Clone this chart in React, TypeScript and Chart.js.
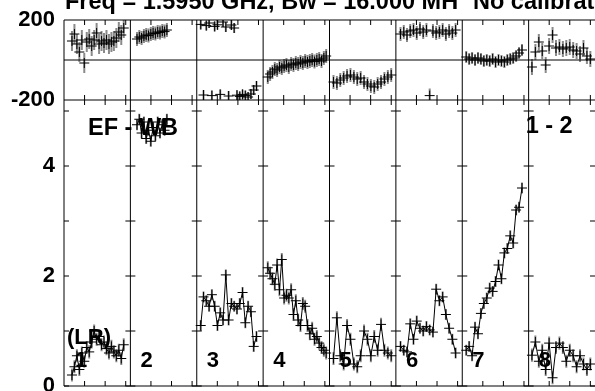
import React, { useEffect, useRef } from 'react';
import { Chart, registerables } from 'chart.js';

Chart.register(...registerables);

// ---- data ----
const panelLabels = ['1', '2', '3', '4', '5', '6', '7', '8'];
const titleText = 'Freq = 1.5950 GHz, Bw = 16.000 MH';
const titleText2 = 'No calibration';
const baselineText = 'EF - WB';
const corrText = '1 - 2';
const polText = '(LR)';

// time span of each panel's samples, as a fraction of the panel width
const panelStart = [0.12, 0.1, 0.06, 0.07, 0.06, 0.07, 0.06, 0.05];
const panelEnd = [0.9, 0.55, 0.9, 0.95, 0.93, 0.9, 0.9, 0.93];

const phase1 = [95, 130, 80, 40, 100, -15, 90, 105, 70, 100, 135, 80, 95, 85, 100, 80, 90, 95, 110, 140, 125, 160];
const amp1 = [0.2, 0.35, 0.55, 0.3, 0.6, 0.45, 0.7, 0.62, 0.8, 1.0, 0.85, 0.9, 0.75, 0.8, 0.68, 0.6, 0.72, 0.62, 0.55, 0.65, 0.5, 0.75];

const phase2 = [105, 115, 110, 120, 125, 122, 130, 135, 132, 140, 138, 145, 142, 150];
const amp2 = [4.75, 4.85, 4.6, 4.8, 4.5, 4.65, 4.45, 4.7, 4.55, 4.8, 4.6, 4.75, 4.65, 4.85];

const phase3 = [178, -175, 172, 185, -178, 168, 176, -172, 190, 165, -180, 175, 160, -176, -182, -172, -178, -185, -170, -150, -130];
const amp3 = [1.1, 1.62, 1.55, 1.45, 1.66, 1.45, 1.1, 1.33, 1.2, 2.02, 1.2, 1.5, 1.45, 1.4, 1.5, 1.7, 1.15, 1.45, 1.35, 0.72, 0.9];

const phase4 = [-85, -70, -60, -45, -50, -35, -40, -30, -25, -35, -20, -25, -15, -20, -10, -15, -5, -10, -5, 0, -8, 0, 5, -5, 10, 20];
const amp4 = [2.15, 2.05, 1.95, 1.85, 2.2, 1.75, 2.3, 1.6, 1.65, 1.6, 1.75, 1.3, 1.55, 1.2, 1.1, 1.5, 1.45, 1.1, 0.95, 1.05, 0.85, 0.9, 0.78, 0.7, 0.65, 0.6];

const phase5 = [-110, -115, -100, -90, -80, -75, -85, -95, -90, -110, -120, -130, -135, -120, -110, -95, -85, -75];
const amp5 = [0.5, 1.24, 0.55, 0.4, 1.1, 0.85, 0.4, 0.35, 0.55, 1.0, 0.85, 0.55, 0.9, 0.65, 1.12, 0.65, 0.6, 0.55];

const phase6 = [130, 140, 125, 145, 150, 135, 155, 140, 150, -178, 145, 135, 140, 150, 130, 145, 135, 150];
const amp6 = [0.72, 0.65, 0.62, 1.13, 0.85, 1.18, 1.05, 1.0, 1.08, 1.02, 0.98, 1.76, 1.55, 1.62, 1.3, 1.05, 0.85, 0.6];

const phase7 = [15, 5, 10, 0, 10, 5, -5, 0, -5, 5, -10, 0, -5, -10, 0, 5, 10, 20, 35, 50];
const amp7 = [0.65, 0.72, 0.55, 1.07, 0.95, 1.32, 1.5, 1.6, 1.78, 1.72, 1.9, 2.2, 1.95, 2.42, 2.5, 2.73, 2.6, 3.2, 3.25, 3.6];

const phase8 = [-35, 40, 90, 45, -25, 70, 125, 60, 65, 55, 60, 65, 50, 45, 30, 60, 20, 5];
const amp8 = [0.56, 0.8, 0.45, 0.65, 0.3, 0.78, 0.15, 0.7, 0.78, 0.7, 0.45, 0.65, 0.55, 0.35, 0.55, 0.4, 0.3, 0.4];

const phaseErr = [50, 35, 25, 35, 35, 35, 30, 40];
const ampErr = [0.12, 0.1, 0.1, 0.12, 0.12, 0.1, 0.1, 0.12];

const phaseTicks = [-200, 0, 200];
const ampMax = 5.2;
const ampTickLabels = [0, 2, 4];
const ampTickMarks = [1, 2, 3, 4, 5];
const xMinorTicks = [0.31, 0.62, 0.93];

const phases = [phase1, phase2, phase3, phase4, phase5, phase6, phase7, phase8];
const amps = [amp1, amp2, amp3, amp4, amp5, amp6, amp7, amp8];

const FONT = '"Liberation Sans", Arial, Helvetica, sans-serif';

function buildDatasets() {
  const ds: any[] = [];
  phases.forEach((ph, p) => {
    const n = ph.length;
    const xs = ph.map((_, i) => p + panelStart[p] + ((panelEnd[p] - panelStart[p]) * i) / (n - 1));
    ds.push({
      type: 'line',
      yAxisID: 'yPhase',
      data: ph.map((v, i) => ({ x: xs[i], y: v })),
      showLine: false,
      pointStyle: 'cross',
      pointRadius: 5,
      pointBorderColor: '#000',
      pointBorderWidth: 1,
      borderColor: '#000',
      errors: phaseErr[p],
    });
    const am = amps[p];
    const xa = am.map((_, i) => p + panelStart[p] + ((panelEnd[p] - panelStart[p]) * i) / (am.length - 1));
    ds.push({
      type: 'line',
      yAxisID: 'yAmp',
      data: am.map((v, i) => ({ x: xa[i], y: v })),
      showLine: true,
      borderColor: '#000',
      borderWidth: 1,
      pointStyle: 'cross',
      pointRadius: 5,
      pointBorderColor: '#000',
      pointBorderWidth: 1,
      errors: ampErr[p],
    });
  });
  return ds;
}

const framePlugin = {
  id: 'pgframe',
  beforeDatasetsDraw(chart: any) {
    const { ctx, chartArea } = chart;
    const xs = chart.scales.x;
    const yp = chart.scales.yPhase;
    const ya = chart.scales.yAmp;
    ctx.save();
    // error bars
    chart.data.datasets.forEach((d: any) => {
      const ys = chart.scales[d.yAxisID];
      ctx.save();
      ctx.beginPath();
      ctx.rect(xs.left, ys.top, xs.right - xs.left, ys.bottom - ys.top);
      ctx.clip();
      ctx.beginPath();
      ctx.strokeStyle = '#8a8a8a';
      ctx.lineWidth = 2;
      d.data.forEach((pt: any) => {
        const px = xs.getPixelForValue(pt.x);
        ctx.moveTo(px, ys.getPixelForValue(pt.y - d.errors));
        ctx.lineTo(px, ys.getPixelForValue(pt.y + d.errors));
      });
      ctx.stroke();
      ctx.restore();
    });

    ctx.strokeStyle = '#000';
    ctx.lineWidth = 1;
    ctx.beginPath();
    const top = chartArea.top;
    const mid = yp.bottom;
    const bot = chartArea.bottom;
    const left = chartArea.left;
    const right = chartArea.right;
    // frame
    ctx.moveTo(left, top); ctx.lineTo(right, top);
    ctx.moveTo(left, mid); ctx.lineTo(right, mid);
    ctx.moveTo(left, bot); ctx.lineTo(right, bot);
    ctx.moveTo(left, top); ctx.lineTo(left, bot);
    const y0 = yp.getPixelForValue(0);
    ctx.moveTo(left, y0); ctx.lineTo(right, y0);
    for (let k = 1; k < panelLabels.length; k++) {
      const x = xs.getPixelForValue(k);
      ctx.moveTo(x, top); ctx.lineTo(x, bot);
    }
    // amplitude ticks at every panel boundary
    for (let k = 0; k <= panelLabels.length; k++) {
      const x = xs.getPixelForValue(k);
      ampTickMarks.forEach((v) => {
        const y = ya.getPixelForValue(v);
        ctx.moveTo(k === 0 ? x : x - 5, y); ctx.lineTo(x + 5, y);
      });
      const yz = ya.getPixelForValue(0);
      ctx.moveTo(k === 0 ? x : x - 5, yz); ctx.lineTo(x + 5, yz);
    }
    // time ticks
    for (let k = 0; k < panelLabels.length; k++) {
      xMinorTicks.forEach((f) => {
        const x = xs.getPixelForValue(k + f);
        ctx.moveTo(x, top); ctx.lineTo(x, top + 5);
        ctx.moveTo(x, mid - 5); ctx.lineTo(x, mid + 5);
        ctx.moveTo(x, bot - 5); ctx.lineTo(x, bot);
      });
    }
    ctx.stroke();
    ctx.restore();
  },
  afterDatasetsDraw(chart: any) {
    const { ctx, chartArea } = chart;
    const xs = chart.scales.x;
    ctx.save();
    ctx.fillStyle = '#000';
    ctx.textBaseline = 'alphabetic';
    ctx.textAlign = 'left';
    ctx.font = `bold 23.5px ${FONT}`;
    ctx.fillText(titleText, chartArea.left + 1, 9);
    ctx.fillText(titleText2, 473, 9);
    ctx.fillText(baselineText, chartArea.left + 24, 135);
    ctx.fillText(corrText, xs.getPixelForValue(7) - 3, 133);
    ctx.font = `bold 22px ${FONT}`;
    ctx.fillText(polText, chartArea.left + 3, 344);
    panelLabels.forEach((lab, k) => {
      const x = xs.getPixelForValue(k) + (k === 0 ? 11 : 10);
      ctx.fillText(lab, x, chartArea.bottom - 19);
    });
    ctx.restore();
  },
};

export default function App() {
  const ref = useRef<HTMLCanvasElement>(null);
  useEffect(() => {
    if (!ref.current) return;
    const fit = (s: any) => {
      s.width = 64;
      s.paddingTop = 0;
      s.paddingBottom = 0;
      s.paddingLeft = 0;
      s.paddingRight = 0;
    };
    const chart = new Chart(ref.current, {
      type: 'line',
      data: { datasets: buildDatasets() },
      options: {
        responsive: false,
        animation: false,
        events: [],
        layout: { autoPadding: false, padding: { top: 20, bottom: 5, left: 0, right: -1 } },
        plugins: { legend: { display: false }, tooltip: { enabled: false }, title: { display: false } },
        scales: {
          x: {
            type: 'linear',
            min: 0,
            max: panelLabels.length,
            display: false,
            ticks: { display: false },
            afterFit: (s: any) => {
              s.height = 0;
              s.paddingLeft = 0;
              s.paddingRight = 0;
              s.paddingTop = 0;
              s.paddingBottom = 0;
            },
          },
          yAmp: {
            type: 'linear',
            position: 'left',
            stack: 'panels',
            stackWeight: 286,
            min: 0,
            max: ampMax,
            afterBuildTicks: (s: any) => { s.ticks = ampTickLabels.map((v) => ({ value: v })); },
            ticks: {
              color: '#000',
              padding: 9,
              font: { family: FONT, size: 22, weight: 'bold' },
            },
            grid: { display: false, drawTicks: false },
            border: { display: false },
            afterFit: fit,
          },
          yPhase: {
            type: 'linear',
            position: 'left',
            stack: 'panels',
            stackWeight: 80,
            min: phaseTicks[0],
            max: phaseTicks[phaseTicks.length - 1],
            afterBuildTicks: (s: any) => { s.ticks = phaseTicks.map((v) => ({ value: v })); },
            ticks: {
              color: '#000',
              padding: 9,
              font: { family: FONT, size: 22, weight: 'bold' },
              callback: (v: any) => (v === 0 ? '' : String(v)),
            },
            grid: { display: false, drawTicks: false },
            border: { display: false },
            afterFit: fit,
          },
        },
      } as any,
      plugins: [framePlugin],
    });
    return () => chart.destroy();
  }, []);
  return (
    <div style={{ position: 'fixed', left: 0, top: 0, width: 595, height: 391, background: '#fff' }}>
      <canvas ref={ref} width={595} height={391} style={{ display: 'block' }} />
    </div>
  );
}
